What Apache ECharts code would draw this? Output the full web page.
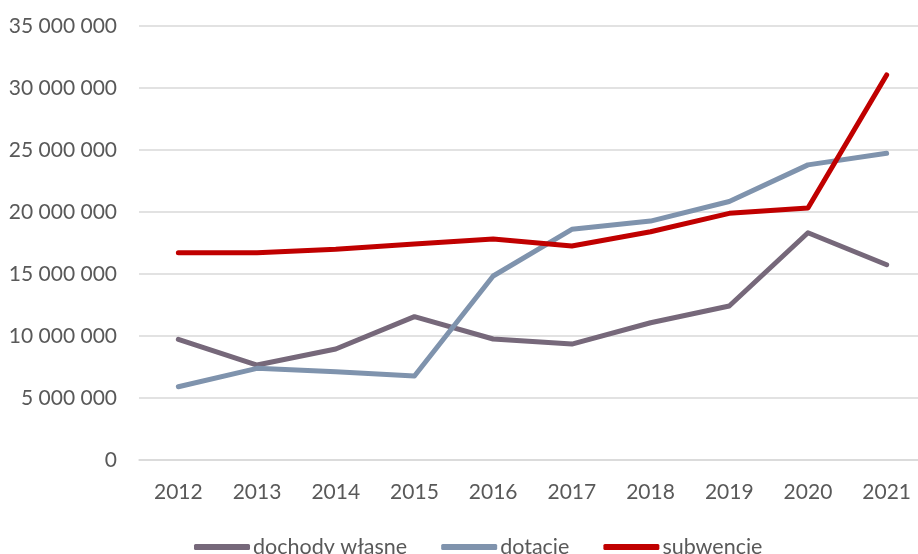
<!DOCTYPE html>
<html>
<head>
<meta charset="utf-8">
<script src="https://cdn.jsdelivr.net/npm/echarts@6/dist/echarts.min.js"></script>
<style>
  html, body { margin: 0; padding: 0; background: #ffffff; overflow: hidden; }
  #chart { width: 926px; height: 554px; }
</style>
</head>
<body>
<div id="chart"></div>
<script>
// Lata
const years = ['2012', '2013', '2014', '2015', '2016', '2017', '2018', '2019', '2020', '2021'];

// Dochody własne, dotacje i subwencje (zł)
const dochodyWlasne = [9730000, 7660000, 8950000, 11560000, 9760000, 9350000, 11070000, 12420000, 18330000, 15750000];
const dotacje = [5910000, 7390000, 7120000, 6770000, 14840000, 18600000, 19270000, 20850000, 23800000, 24730000];
const subwencje = [16720000, 16720000, 16990000, 17420000, 17820000, 17260000, 18410000, 19890000, 20320000, 31050000];

// Podziałka osi Y
const yMin = 0;
const yMax = 35000000;
const yStep = 5000000;

const seriesNames = ['dochody własne', 'dotacje', 'subwencje'];
const seriesColors = ['#76687A', '#7F93AD', '#C00000'];
const seriesData = [dochodyWlasne, dotacje, subwencje];

const textColor = '#595959';
const fontFamily = 'Lato, "Open Sans", sans-serif';

function formatThousands(v) {
  return String(v).replace(/\B(?=(\d{3})+(?!\d))/g, ' ');
}

const chart = echarts.init(document.getElementById('chart'), null, { renderer: 'canvas' });

chart.setOption({
  animation: false,
  backgroundColor: '#ffffff',
  grid: { left: 139, right: 0, top: 26, height: 434, containLabel: false },
  legend: {
    left: 189,
    top: 531,
    itemWidth: 56,
    itemHeight: 6,
    itemGap: 34,
    icon: 'roundRect',
    data: seriesNames,
    textStyle: { color: textColor, fontSize: 21.5, fontFamily: fontFamily, padding: [0, 0, 0, -2] }
  },
  xAxis: {
    type: 'category',
    data: years,
    boundaryGap: true,
    axisLine: { show: true, lineStyle: { color: '#d9d9d9', width: 1.5 } },
    axisTick: { show: false },
    axisLabel: { color: textColor, fontSize: 21, fontFamily: fontFamily, margin: 22 }
  },
  yAxis: {
    type: 'value',
    min: yMin,
    max: yMax,
    interval: yStep,
    axisLine: { show: false },
    axisTick: { show: false },
    splitLine: { lineStyle: { color: '#d9d9d9', width: 1.5 } },
    axisLabel: {
      color: textColor,
      fontSize: 21,
      fontFamily: fontFamily,
      margin: 22,
      formatter: formatThousands
    }
  },
  series: seriesNames.map((name, i) => ({
    name: name,
    type: 'line',
    data: seriesData[i],
    symbol: 'none',
    itemStyle: { color: seriesColors[i] },
    lineStyle: { color: seriesColors[i], width: 5, cap: 'round', join: 'round' }
  }))
});
</script>
</body>
</html>
